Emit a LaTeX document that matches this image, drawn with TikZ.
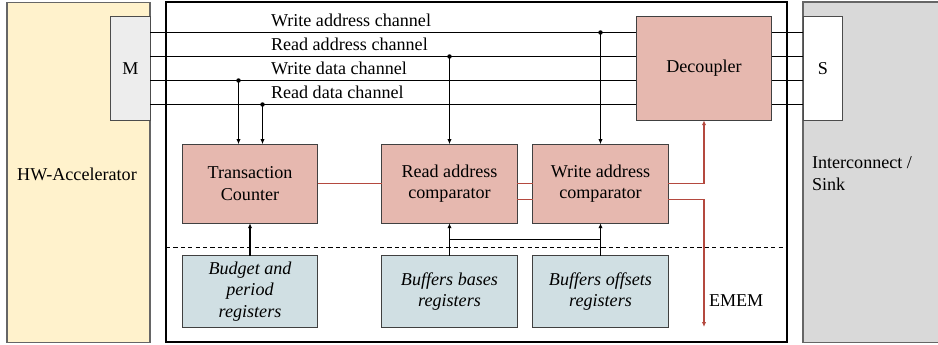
\documentclass[tikz,border=0pt]{standalone}
\usepackage{fontspec}
\setmainfont{LiberationSerif}[Extension=.ttf, UprightFont=*-Regular, ItalicFont=*-Italic, BoldFont=*-Bold, BoldItalicFont=*-BoldItalic]
\usepackage{tikz}
\usetikzlibrary{positioning}
\usetikzlibrary{arrows.meta}

\definecolor{hwyellow}{HTML}{FFF2CC}
\definecolor{mgray}{HTML}{EDEDED}
\definecolor{icgray}{HTML}{D9D9D9}
\definecolor{blockred}{HTML}{E6B8AF}
\definecolor{regblue}{HTML}{D0DFE3}
\definecolor{linkred}{HTML}{B4493F}

\begin{document}
\begin{tikzpicture}[x=0.02cm, y=-0.02cm, line width=0.6pt,
    font=\rmfamily\fontsize{10.3}{12.4}\selectfont,
    >={Latex[length=1mm,width=0.85mm]},
    every node/.style={inner sep=0pt, outer sep=0pt},
    block/.style={draw=black!75, fill=blockred, minimum width=2.71cm, minimum height=1.58cm, align=center},
    reg/.style={draw=black!75, fill=regblue, minimum width=2.71cm, minimum height=1.43cm, align=center, font=\rmfamily\fontsize{10.3}{12.4}\selectfont\itshape},
    port/.style={draw=black!70, minimum width=0.79cm, minimum height=2.07cm},
    dot/.style={circle, fill=black, minimum size=0.09cm},
    link/.style={color=linkred, line width=0.85pt}]
            \useasboundingbox (0,0) rectangle (938,345);
            % Bloques exteriores
            \node[draw=black!60, fill=hwyellow, minimum width=2.86cm, minimum height=6.82cm] (hw) at (78.5,172.5) {};
            \node at (77,174) {HW-Accelerator};
            \node[draw=black!60, fill=icgray, minimum width=2.9cm, minimum height=6.82cm, anchor=north west] (ic) at (803,2) {};
            \node[anchor=base west, align=left] (ictext) at (812,190) {Interconnect /\\Sink};
            \node[draw=black, line width=0.8pt, minimum width=12.42cm, minimum height=6.8cm] (main) at (476.5,172) {};
            \node[port, fill=mgray] (M) at (130.5,68.5) {M};
            \node[port, fill=white] (S) at (823,68.5) {S};

            % Canales
            \coordinate (wa) at (0,32.5);
            \coordinate (ra) at (0,56.5);
            \coordinate (wd) at (0,80.5);
            \coordinate (rd) at (0,104.5);
            \draw (M.east |- wa) -- (S.west |- wa);
            \draw (M.east |- ra) -- (S.west |- ra);
            \draw (M.east |- wd) -- (S.west |- wd);
            \draw (M.east |- rd) -- (S.west |- rd);
            \node[anchor=base west] (lwa) at (271,26.5) {Write address channel};
            \node[anchor=base west] (lra) at (271,50.5) {Read address channel};
            \node[anchor=base west] (lwd) at (271,74.5) {Write data channel};
            \node[anchor=base west] (lrd) at (271,98.5) {Read data channel};

            % Bloques
            \node[block, minimum height=2.07cm] (dec) at (704,68.5) {Decoupler};
            \node[block] (tc) at (250,183.7) {Transaction\\Counter};
            \node[block] (rac) at (449.5,183.7) {Read address\\comparator};
            \node[block] (wac) at (600.5,183.7) {Write address\\comparator};
            \node[reg] (bud) at (250,291.5) {Budget and\\period\\registers};
            \node[reg] (bb) at (449.5,291.5) {Buffers bases\\registers};
            \node[reg] (bo) at (600.5,291.5) {Buffers offsets\\registers};
            \draw[dash pattern=on 2.4pt off 1.8pt] (main.west |- 0,247.5) -- (main.east |- 0,247.5);

            % Puntos
            \node[dot] (d1) at (600.5,32.5) {};
            \node[dot] (d2) at (449.5,56.5) {};
            \node[dot] (d3) at (238.5,80.5) {};
            \node[dot] (d4) at (262.5,104.5) {};

            % Conexiones
            \draw[->] (d1.center) -- (wac.north -| d1);
            \draw[->] (d2.center) -- (rac.north -| d2);
            \draw[->] (d3.center) -- (tc.north -| d3);
            \draw[->] (d4.center) -- (tc.north -| d4);
            \draw[->] (bud) -- (tc);
            \draw[->] (bb) -- (rac);
            \draw[->] (bo) -- (wac);
            \coordinate (j1) at (449.5,239.5);
            \draw (j1) -- (j1 -| wac);
            \draw[link] (tc.east) -- (rac.west);
            \draw[link] (rac.east) -- (wac.west);
            \draw[link] ([yshift=-0.32cm]rac.east) -- ([yshift=-0.32cm]wac.west);
            \coordinate (emem) at (704,327);
            \draw[link, ->] (wac.east) -| (dec.south);
            \draw[link, ->] ([yshift=-0.32cm]wac.east) -| (emem);
            \node[anchor=base west] (lemem) at (709,306) {EMEM};
          \end{tikzpicture}
\end{document}
